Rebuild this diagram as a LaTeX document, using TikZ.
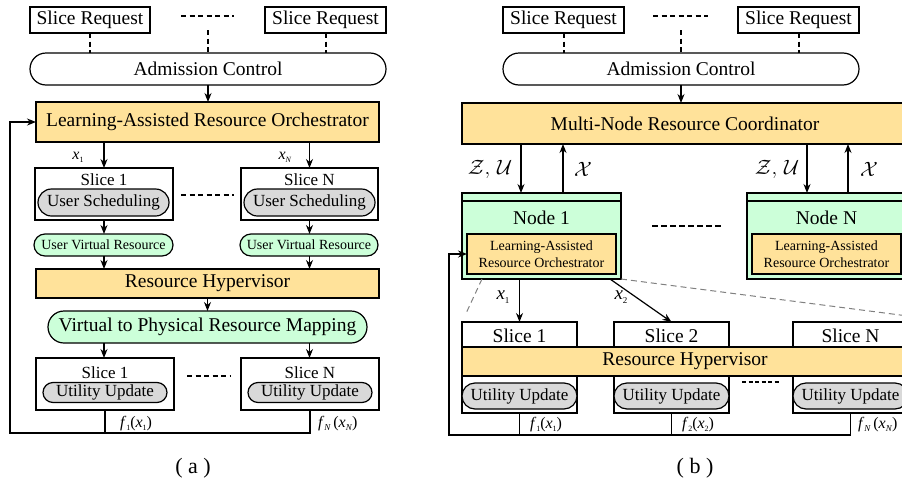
\documentclass[tikz,border=0pt]{standalone}
\usepackage{fontspec}
\setmainfont{Liberation Serif}
\usetikzlibrary{arrows.meta,shapes.misc,calc}
\definecolor{orng}{HTML}{FFE29A}
\definecolor{lgreen}{HTML}{CCFFD9}
\definecolor{lgray}{HTML}{D9D9D9}
\tikzset{
 every node/.style={inner sep=0pt, outer sep=0pt},
 sz/.style 2 args={minimum width=#1pt, minimum height=#2pt},
 big/.style={font=\fontsize{19.5}{22}\selectfont},
 mid/.style={font=\fontsize{17}{19}\selectfont},
 sml/.style={font=\fontsize{14}{17}\selectfont},
 lbl/.style={font=\fontsize{16}{18}\selectfont},
 plainbox/.style={draw, line width=1.2pt, rectangle, fill=white},
 orbox/.style={draw, line width=1.2pt, rectangle, fill=orng},
 pill/.style={draw, line width=1.2pt, rounded rectangle},
 arr/.style={-{Stealth[length=9pt,width=7pt]}, line width=1.2pt},
 ln/.style={line width=1.5pt},
 dots/.style={line width=2pt, dash pattern=on 5pt off 3.5pt},
 zoomln/.style={draw=gray, line width=1pt, dash pattern=on 6pt off 4pt},
}
\begin{document}
\begin{tikzpicture}[x=1pt,y=-1pt]
\useasboundingbox (0,0) rectangle (902,485);
\clip (0,0) rectangle (902,485);
% ================= (a) =================
\node[plainbox,big,sz={120}{26}] (sr1a) at (90,20) {Slice Request};
\node[plainbox,big,sz={121}{26}] (sr2a) at (325.5,20) {Slice Request};
\coordinate (dla1) at (181,16); \coordinate (dla2) at (234,16);
\draw[dots] (dla1) -- (dla2);
\node[pill,big,sz={356}{32}] (aca) at (208,69) {Admission Control};
\coordinate (mida) at (208,30);
\draw[dots] (sr1a.south) -- (sr1a.south |- aca.north);
\draw[dots] (sr2a.south) -- (sr2a.south |- aca.north);
\draw[dots] (mida) -- (mida |- aca.north);
\node[orbox,big,sz={343}{40}] (laroa) at (207.5,122) {Learning-Assisted Resource Orchestrator};
\draw[arr] (aca.south) -- (aca.south |- laroa.north);
% slices top
\node[plainbox,sz={138}{52}] (s1a) at (104,194) {};
\node[plainbox,sz={137}{52}] (sNa) at (309.5,194) {};
\node[mid] (s1at) at (104,180) {Slice 1};
\node[mid] (sNat) at (309.5,180) {Slice N};
\node[pill,mid,fill=lgray,sz={131}{27}] (us1) at (103.5,202.5) {User Scheduling};
\node[pill,mid,fill=lgray,sz={131}{27}] (usN) at (309.5,202.5) {User Scheduling};
\coordinate (dlb1) at (181,195); \coordinate (dlb2) at (234,195);
\draw[dots] (dlb1) -- (dlb2);
\draw[arr] (laroa.south -| s1a.north) -- (s1a.north);
\draw[arr] (laroa.south -| sNa.north) -- (sNa.north);
\node[lbl] (x1a) at (78,157) {\textit{x}\raisebox{-3pt}{\fontsize{8}{9}\selectfont 1}};
\node[lbl] (xNa) at (285,157) {\textit{x}\raisebox{-3pt}{\fontsize{8}{9}\selectfont\textit{N}}};
\node[pill,sml,fill=lgreen,sz={139}{22}] (uv1) at (103.5,245) {User Virtual Resource};
\node[pill,sml,fill=lgreen,sz={138}{22}] (uvN) at (309,245) {User Virtual Resource};
\draw[arr] (s1a.south) -- (s1a.south |- uv1.north);
\draw[arr] (sNa.south) -- (sNa.south |- uvN.north);
\node[orbox,big,sz={343}{29}] (rha) at (207.5,283.5) {Resource Hypervisor};
\draw[arr] (uv1.south -| s1a.south) -- (rha.north -| s1a.south);
\draw[arr] (uvN.south -| sNa.south) -- (rha.north -| sNa.south);
\node[pill,big,fill=lgreen,sz={319}{32}] (vp) at (207.5,327) {Virtual to Physical Resource Mapping};
\draw[arr] (rha.south -| vp.north) -- (vp.north);
% slices bottom
\node[plainbox,sz={138}{52}] (b1a) at (105,384) {};
\node[plainbox,sz={138}{52}] (bNa) at (310,384) {};
\node[mid] (b1at) at (105,373) {Slice 1};
\node[mid] (bNat) at (310,373) {Slice N};
\node[pill,mid,fill=lgray,sz={124}{20}] (uu1a) at (105,392.5) {Utility Update};
\node[pill,mid,fill=lgray,sz={124}{20}] (uuNa) at (310,392.5) {Utility Update};
\draw[arr] (vp.south -| s1a.south) -- (b1a.north -| s1a.south);
\draw[arr] (vp.south -| sNa.south) -- (bNa.north -| sNa.south);
\coordinate (dlc1) at (187,376); \coordinate (dlc2) at (230,376);
\draw[dots] (dlc1) -- (dlc2);
\coordinate (fa1) at (105,433); \coordinate (faL) at (10,433);
\draw[ln] (b1a.south) -- (fa1);
\draw[ln,-{Stealth[length=9pt,width=7pt]}] (bNa.south) |- (faL) |- (laroa.west);
\node[lbl,anchor=west] (f1a) at (120,424) {\textit{f}\raisebox{-3pt}{\fontsize{8}{9}\selectfont 1}(\textit{x}\raisebox{-3pt}{\fontsize{8}{9}\selectfont 1})};
\node[lbl,anchor=west] (fNa) at (318,424) {\textit{f}\raisebox{-3pt}{\fontsize{9}{9}\selectfont\textit{N}}\,(\textit{x}\raisebox{-3pt}{\fontsize{9}{9}\selectfont\textit{N}})};
\node[font=\fontsize{22}{24}\selectfont] (capa) at (193,468) {( a )};
% ================= (b) =================
\node[plainbox,big,sz={121}{26}] (sr1b) at (563.5,20) {Slice Request};
\node[plainbox,big,sz={121}{26}] (sr2b) at (798.5,20) {Slice Request};
\coordinate (dld1) at (653,16); \coordinate (dld2) at (708,16);
\draw[dots] (dld1) -- (dld2);
\node[pill,big,sz={356}{32}] (acb) at (681,69) {Admission Control};
\coordinate (midb) at (681,30);
\draw[dots] (sr1b.south) -- (sr1b.south |- acb.north);
\draw[dots] (sr2b.south) -- (sr2b.south |- acb.north);
\draw[dots] (midb) -- (midb |- acb.north);
\node[orbox,big,sz={446}{41},line width=1.5pt] (mn) at (685,123.5) {Multi-Node Resource Coordinator};
\draw[arr] (acb.south) -- (acb.south |- mn.north);
% nodes
\node[draw,line width=2.2pt,fill=lgreen,sz={159}{86}] (n1) at (541.5,236) {};
\node[draw,line width=2.2pt,fill=lgreen,sz={159}{86}] (nN) at (826.5,236) {};
\draw[line width=1.5pt] ($(n1.north west)+(0,8)$) -- ($(n1.north east)+(0,8)$);
\draw[line width=1.5pt] ($(nN.north west)+(0,8)$) -- ($(nN.north east)+(0,8)$);
\node[big] (n1t) at (541.5,218) {Node 1};
\node[big] (nNt) at (826.5,218) {Node N};
\node[orbox,sml,align=center,sz={149}{40}] (l1) at (541.5,254) {Learning-Assisted\\Resource Orchestrator};
\node[orbox,sml,align=center,sz={149}{40}] (lN) at (826.5,254) {Learning-Assisted\\Resource Orchestrator};
\coordinate (dle1) at (652,226); \coordinate (dle2) at (723,226);
\draw[dots,dash pattern=on 6pt off 3pt] (dle1) -- (dle2);
\coordinate (d1) at (521,0); \coordinate (u1) at (563,0);
\coordinate (dN) at (807,0); \coordinate (uN) at (848,0);
\draw[arr] (mn.south -| d1) -- (n1.north -| d1);
\draw[arr] (n1.north -| u1) -- (mn.south -| u1);
\draw[arr] (mn.south -| dN) -- (nN.north -| dN);
\draw[arr] (nN.north -| uN) -- (mn.south -| uN);
\node[font=\fontsize{20}{22}\selectfont] (zu1) at (490,169) {$\mathcal{Z},\,\mathcal{U}$};
\node[font=\fontsize{20}{22}\selectfont] (xx1) at (583,169) {$\mathcal{X}$};
\node[font=\fontsize{20}{22}\selectfont] (zuN) at (777,169) {$\mathcal{Z},\,\mathcal{U}$};
\node[font=\fontsize{20}{22}\selectfont] (xxN) at (869,169) {$\mathcal{X}$};
% slices (b)
\node[plainbox,sz={115}{91}] (s1b) at (519.5,367.5) {};
\node[plainbox,sz={115}{91}] (s2b) at (671.5,367.5) {};
\node[plainbox,sz={115}{91}] (sNb) at (850.5,367.5) {};
\node[big] (s1bt) at (519.5,336) {Slice 1};
\node[big] (s2bt) at (671.5,336) {Slice 2};
\node[big] (sNbt) at (850.5,336) {Slice N};
\node[orbox,big,sz={446}{29}] (rhb) at (685,361.5) {Resource Hypervisor};
\node[pill,mid,fill=lgray,sz={115}{26}] (uu1b) at (519.5,396) {Utility Update};
\node[pill,mid,fill=lgray,sz={115}{26}] (uu2b) at (671.5,396) {Utility Update};
\node[pill,mid,fill=lgray,sz={115}{26}] (uuNb) at (850.5,396) {Utility Update};
\coordinate (dlf1) at (742,382); \coordinate (dlf2) at (779,382);
\draw[line width=1.5pt,dash pattern=on 4pt off 2.5pt] (dlf1) -- (dlf2);
% zoom lines
\coordinate (zr) at (908,316);
\draw[zoomln,shorten >=9pt] ($(n1.south west)+(20,0)$) -- (s1b.north west);
\draw[zoomln] (n1.south east) -- (zr);
% arrows x1 x2
\draw[arr] (n1.south -| s1b.north) -- (s1b.north);
\draw[arr] ($(n1.south east)+(-11,0)$) -- (s2b.north);
\node[font=\fontsize{19}{21}\selectfont] (x1b) at (503,297) {\textit{x}\raisebox{-4pt}{\fontsize{9}{9}\selectfont 1}};
\node[font=\fontsize{19}{21}\selectfont] (x2b) at (621,297) {\textit{x}\raisebox{-4pt}{\fontsize{9}{9}\selectfont 2}};
% feedback (b)
\coordinate (fb1) at (519.5,435); \coordinate (fb2) at (671.5,435); \coordinate (fbL) at (449,435);
\draw[ln] (s1b.south) -- (fb1);
\draw[ln] (s2b.south) -- (fb2);
\draw[ln,-{Stealth[length=9pt,width=7pt]}] (sNb.south) |- (fbL) |- (l1.west);
\node[lbl,anchor=west] (f1b) at (530,425) {\textit{f}\raisebox{-3pt}{\fontsize{8}{9}\selectfont 1}(\textit{x}\raisebox{-3pt}{\fontsize{8}{9}\selectfont 1})};
\node[lbl,anchor=west] (f2b) at (682,425) {\textit{f}\raisebox{-3pt}{\fontsize{8}{9}\selectfont 2}(\textit{x}\raisebox{-3pt}{\fontsize{8}{9}\selectfont 2})};
\node[lbl,anchor=west] (fNb) at (858,425) {\textit{f}\raisebox{-3pt}{\fontsize{9}{9}\selectfont\textit{N}}\,(\textit{x}\raisebox{-3pt}{\fontsize{9}{9}\selectfont\textit{N}})};
\node[font=\fontsize{22}{24}\selectfont] (capb) at (695,468) {( b )};
\end{tikzpicture}
\end{document}
